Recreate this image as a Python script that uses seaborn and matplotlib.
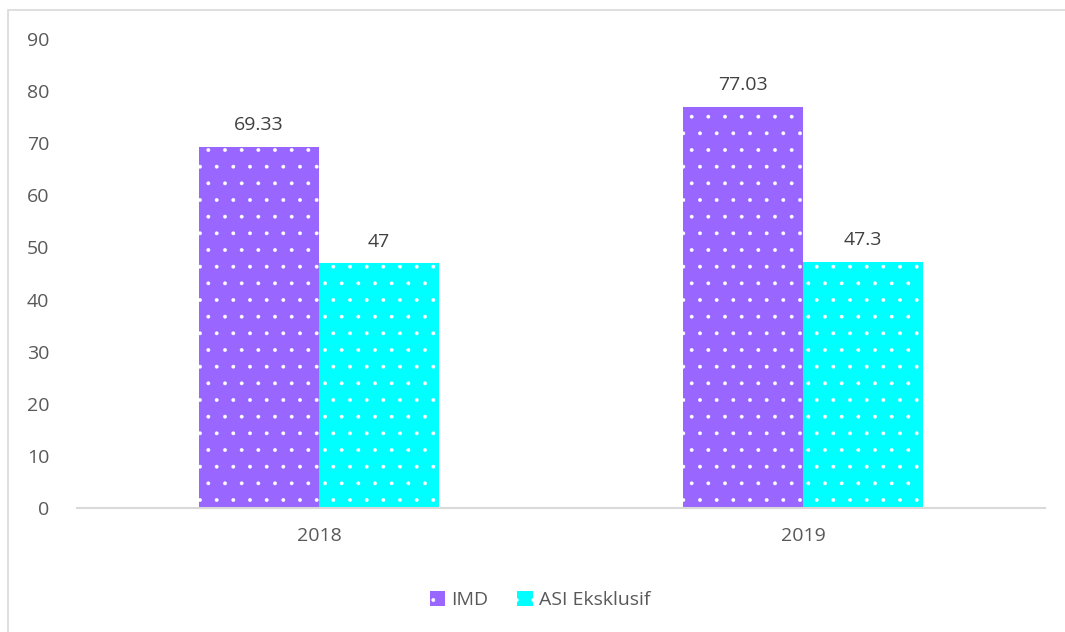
import pandas as pd
import matplotlib.pyplot as plt
import seaborn as sns
from matplotlib.patches import Rectangle, Patch

# datos
years = ["2018", "2019"]
imd = [69.33, 77.03]
asi = [47, 47.3]
etiquetas_imd = ["69.33", "77.03"]
etiquetas_asi = ["47", "47.3"]
series = ["IMD", "ASI Eksklusif"]
colores = ["#9966FF", "#00FFFF"]

df = pd.DataFrame({
    "year": years * 2,
    "valor": imd + asi,
    "serie": [series[0]] * 2 + [series[1]] * 2,
})

sns.set_theme(style="white")
plt.rcParams["font.family"] = ["Open Sans", "DejaVu Sans"]
plt.rcParams["hatch.linewidth"] = 0.3

fig = plt.figure(figsize=(10.65, 6.32), dpi=100)
ax = fig.add_axes([77 / 1065, 1 - 508 / 632, (1045 - 77) / 1065, (508 - 39) / 632])

sns.barplot(data=df, x="year", y="valor", hue="serie", palette=colores,
            width=0.495, ax=ax, legend=False, saturation=1)

for bar in ax.patches:
    bar.set_hatch(".")
    bar.set_edgecolor("white")
    bar.set_linewidth(0)

for cont, labs in zip(ax.containers, [etiquetas_imd, etiquetas_asi]):
    ax.bar_label(cont, labels=labs, padding=9, fontsize=14, color="#404040")

ax.set_ylim(0, 90)
ax.set_yticks(range(0, 91, 10))
ax.set_xlabel("")
ax.set_ylabel("")
sns.despine(ax=ax, left=True, top=True, right=True)
ax.spines["bottom"].set_color("#d9d9d9")
ax.spines["bottom"].set_linewidth(1.5)
ax.tick_params(axis="y", length=0, pad=20, labelsize=14, labelcolor="#595959")
ax.tick_params(axis="x", length=0, pad=14, labelsize=14, labelcolor="#595959")

handles = [Patch(facecolor=c, edgecolor="white", hatch=".", linewidth=0) for c in colores]
fig.legend(handles, series, loc="center", bbox_to_anchor=(540 / 1065, 1 - 600 / 632),
           ncol=2, frameon=False, fontsize=14, handlelength=0.8, handleheight=0.8,
           handletextpad=0.3, columnspacing=1.5, labelcolor="#595959")

# borde gris del area del grafico
fig.patches.append(Rectangle((8 / 1065, -0.1), 1.2, 1 - 10 / 632 + 0.1,
                             transform=fig.transFigure, fill=False,
                             edgecolor="#d9d9d9", linewidth=1.2))

fig.savefig("out.png", dpi=100)
